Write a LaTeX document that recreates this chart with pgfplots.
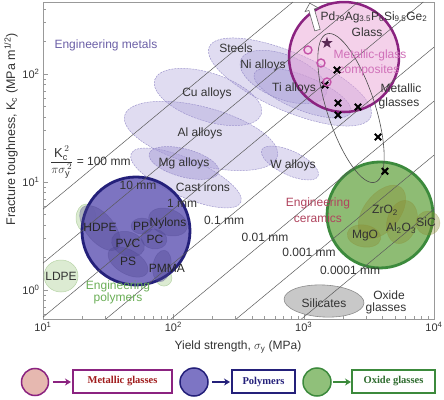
\documentclass[border=0pt]{standalone}
\usepackage{pgfplots}
\pgfplotsset{compat=1.18}
\usepackage{amsmath}
\usepackage{fontspec}
\setmainfont{Liberation Sans}
\newfontfamily\serifb{Liberation Serif}
\usetikzlibrary{shapes.geometric,shapes.arrows,arrows.meta}
\definecolor{metfill}{HTML}{A59AD6}
\definecolor{metdraw}{HTML}{8E84C4}
\definecolor{metc}{HTML}{6B5FA6}
\definecolor{mgfill}{HTML}{E9A3D6}
\definecolor{mgdraw}{HTML}{8B2380}
\definecolor{mgc}{HTML}{D070B8}
\definecolor{nvfill}{HTML}{7268BC}
\definecolor{nvdraw}{HTML}{24207A}
\definecolor{polyf}{HTML}{4E4690}
\definecolor{grfill}{HTML}{82B565}
\definecolor{grdraw}{HTML}{3C8A3C}
\definecolor{cerf}{HTML}{8A8A2E}
\definecolor{silf}{HTML}{C8C8C8}
\definecolor{sild}{HTML}{8C8C8C}
\definecolor{lgf}{HTML}{DCEBD2}
\definecolor{lgd}{HTML}{B8D4A8}
\definecolor{cerc}{HTML}{B0445E}
\definecolor{polc}{HTML}{6AAE56}
\definecolor{labc}{HTML}{333333}
\definecolor{linec}{HTML}{5A5A5A}
\definecolor{starc}{HTML}{5A2A55}
\definecolor{pinkm}{HTML}{C452A8}
\definecolor{legpink}{HTML}{E6B8B0}
\definecolor{legblue}{HTML}{7D75C4}
\definecolor{leggreen}{HTML}{90C07A}
\definecolor{mgtext}{HTML}{A01C1C}
\definecolor{grtext}{HTML}{2E6B2E}
\pgfdeclareplotmark{fstar}{%
  \pgfpathmoveto{\pgfpointpolar{90}{\pgfplotmarksize}}%
  \pgfpathlineto{\pgfpointpolar{126}{0.4\pgfplotmarksize}}%
  \pgfpathlineto{\pgfpointpolar{162}{\pgfplotmarksize}}%
  \pgfpathlineto{\pgfpointpolar{198}{0.4\pgfplotmarksize}}%
  \pgfpathlineto{\pgfpointpolar{234}{\pgfplotmarksize}}%
  \pgfpathlineto{\pgfpointpolar{270}{0.4\pgfplotmarksize}}%
  \pgfpathlineto{\pgfpointpolar{306}{\pgfplotmarksize}}%
  \pgfpathlineto{\pgfpointpolar{342}{0.4\pgfplotmarksize}}%
  \pgfpathlineto{\pgfpointpolar{18}{\pgfplotmarksize}}%
  \pgfpathlineto{\pgfpointpolar{54}{0.4\pgfplotmarksize}}%
  \pgfpathclose\pgfusepathqfill}
\tikzset{
  met/.style={ellipse, inner sep=0pt, draw=metdraw, dash pattern=on 2pt off 1pt, fill=metfill, fill opacity=0.35, draw opacity=0.8, line width=0.5pt},
  poly/.style={ellipse, inner sep=0pt, draw=polyf, fill=polyf, fill opacity=0.35, draw opacity=0.35, line width=0.5pt},
  cer/.style={ellipse, inner sep=0pt, draw=cerf, fill=cerf, fill opacity=0.35, draw opacity=0.3, line width=0.5pt},
  lgr/.style={ellipse, inner sep=0pt, draw=lgd, fill=lgf, line width=0.5pt},
  lab/.style={font=\fontsize{12}{14}\selectfont, text=labc, inner sep=0pt},
  dl/.style={linec, line width=0.5pt},
}
\begin{document}
\begin{tikzpicture}
\useasboundingbox (-43pt,-80pt) rectangle (401pt,319pt);
\begin{axis}[
  at={(0,0)}, anchor=south west,
  xmode=log, ymode=log, scale only axis, width=391pt, height=317pt,
  xmin=10, xmax=10000, ymin=0.539, ymax=464, clip=false,
  xtick={10,100,1000,10000},
  xticklabels={10\textsuperscript{1},10\textsuperscript{2},10\textsuperscript{3},10\textsuperscript{4}},
  ytick={1,10,100},
  yticklabels={10\textsuperscript{0},10\textsuperscript{1},10\textsuperscript{2}},
  minor xtick={20,30,40,50,60,70,80,90,200,300,400,500,600,700,800,900,2000,3000,4000,5000,6000,7000,8000,9000},
  minor ytick={0.6,0.7,0.8,0.9,2,3,4,5,6,7,8,9,20,30,40,50,60,70,80,90,200,300,400},
  tick pos=left, tick align=inside,
  major tick length=5pt, minor tick length=3pt,
  axis line style={draw=gray!80}, tick style={gray!80},
  xticklabel style={font=\fontsize{11}{13}\selectfont, text=labc},
  yticklabel style={font=\fontsize{11}{13}\selectfont, text=labc},
  xlabel={Yield strength, $\sigma_{\text{y}}$ (MPa)},
  ylabel={Fracture toughness, K\textsubscript{c} (MPa m\textsuperscript{1/2})},
  every axis x label/.style={at={(axis description cs:0.4987,0)}, yshift=-28pt, anchor=center, font=\fontsize{12}{14}\selectfont, text=labc},
  every axis y label/.style={at={(axis description cs:0,0.599)}, xshift=-32pt, rotate=90, anchor=center, font=\fontsize{12.5}{14}\selectfont, text=labc},
]
% metals
\node[met, minimum width=176pt, minimum height=58pt, rotate=-23.5] at (axis cs:785,84.3) {};
\node[met, minimum width=112pt, minimum height=48pt, rotate=-18] at (axis cs:184.5,61.2) {};
\node[met, minimum width=158pt, minimum height=58pt, rotate=-15] at (axis cs:163,26.7) {};
\node[met, minimum width=120pt, minimum height=38pt, rotate=-24] at (axis cs:125,10.9) {};
\node[met, minimum width=72pt, minimum height=28pt, rotate=-15, fill opacity=0.5] at (axis cs:120.8,15.0) {};
\node[met, minimum width=92pt, minimum height=44pt, rotate=-22] at (axis cs:700,93.8) {};
\node[met, minimum width=104pt, minimum height=34pt, rotate=-22] at (axis cs:980,66.7) {};
\node[met, minimum width=62pt, minimum height=24pt, rotate=-25] at (axis cs:785,15.0) {};
% green polymer remnants and LDPE
\node[lgr, minimum width=20pt, minimum height=28pt] at (axis cs:21.4,4.64) {};
\node[lgr, minimum width=16pt, minimum height=16pt] at (axis cs:84.7,1.29) {};
\node[lgr, minimum width=34pt, minimum height=32pt] at (axis cs:13.75,1.348) {};
% silicates
\node[ellipse, inner sep=0pt, draw=sild, fill=silf, line width=0.6pt, minimum width=80pt, minimum height=32pt, rotate=-3] at (axis cs:1433,0.791) {};
% big circles
\node[circle, inner sep=0pt, minimum size=110pt, fill=mgfill, fill opacity=0.5, draw=mgdraw, line width=2.5pt] at (axis cs:2040,143.6) {};
\node[circle, inner sep=0pt, minimum size=108pt, fill=nvfill, fill opacity=0.92, draw=nvdraw, line width=2.8pt] at (axis cs:51.7,3.52) {};
\node[circle, inner sep=0pt, minimum size=106pt, fill=grfill, fill opacity=0.9, draw=grdraw, line width=2.8pt] at (axis cs:3855,4.95) {};
% polymer ellipses
\node[poly, minimum width=54pt, minimum height=28pt, rotate=-50] at (axis cs:27.4,3.75) {};
\node[poly, minimum width=22pt, minimum height=16pt] at (axis cs:57.5,3.91) {};
\node[poly, minimum width=40pt, minimum height=26pt, rotate=-20] at (axis cs:91.0,4.26) {};
\node[poly, minimum width=26pt, minimum height=20pt, rotate=-10] at (axis cs:71.1,2.97) {};
\node[poly, minimum width=34pt, minimum height=24pt, rotate=-20] at (axis cs:44.9,2.67) {};
\node[poly, minimum width=44pt, minimum height=24pt, rotate=-30] at (axis cs:44.9,1.816) {};
\node[poly, minimum width=32pt, minimum height=18pt, rotate=80] at (axis cs:81.8,1.668) {};
% ceramic ellipses
\node[cer, minimum width=62pt, minimum height=36pt, rotate=52] at (axis cs:3990,5.28) {};
\node[cer, minimum width=44pt, minimum height=30pt, rotate=75] at (axis cs:5682,4.26) {};
\node[cer, minimum width=24pt, minimum height=24pt] at (axis cs:8995,4.17) {};
\node[cer, minimum width=34pt, minimum height=22pt, rotate=-10] at (axis cs:2904,3.16) {};
% metallic glasses loop
\node[ellipse, inner sep=0pt, draw=black!70, line width=0.6pt, minimum width=156pt, minimum height=48pt, rotate=-72] at (axis cs:2307,48.4) {};
% diagonal lines K^2/(pi sigma^2) = const
\addplot[dl] coordinates {(10,5.605) (828,464)};
\addplot[dl] coordinates {(10,1.773) (2618,464)};
\addplot[dl] coordinates {(10,0.5605) (8279,464)};
\addplot[dl] coordinates {(30.4,0.539) (10000,177.3)};
\addplot[dl] coordinates {(96.1,0.539) (10000,56.06)};
\addplot[dl] coordinates {(304.0,0.539) (10000,17.73)};
\addplot[dl] coordinates {(961.4,0.539) (10000,5.605)};
% data marks
\addplot[only marks, mark=x, mark size=4.5pt, line width=2pt, black] coordinates {(1803,109) (1459,79.1) (1834,53.9) (1834,41.7) (2612,49.5) (3715,26.1) (4207,12.6)};
\addplot[only marks, mark=fstar, mark size=6pt, color=starc] coordinates {(1510,193.6)};
\addplot[only marks, mark=o, mark size=4pt, line width=1.4pt, color=pinkm] coordinates {(1079,166.8) (1358,126.4) (1510,84.3)};
% hollow arrow
\node[single arrow, draw=black!60, fill=white, line width=0.6pt, minimum height=28pt, inner sep=2.5pt, single arrow head extend=4pt, rotate=106] at (axis cs:1200,330) {};
% labels
\node[lab, text=metc] at (axis cs:30.4,185.7) {Engineering metals};
\node[lab] at (axis cs:302.6,174) {Steels};
\node[lab] at (axis cs:487.5,121.2) {Ni alloys};
\node[lab] at (axis cs:843,74.2) {Ti alloys};
\node[lab] at (axis cs:181.3,66.7) {Cu alloys};
\node[lab] at (axis cs:160.2,28.4) {Al alloys};
\node[lab] at (axis cs:120.8,15.0) {Mg alloys};
\node[lab] at (axis cs:168.9,8.99) {Cast irons};
\node[lab] at (axis cs:828,14.37) {W alloys};
\node[lab] at (axis cs:3467,337) {Pd\textsubscript{79}Ag\textsubscript{3.5}P\textsubscript{6}Si\textsubscript{9.5}Ge\textsubscript{2}};
\node[lab] at (axis cs:3063,244.8) {Glass};
\node[lab, text=mgc] at (axis cs:3229,150) {Metallic-glass};
\node[lab, text=mgc] at (axis cs:3170,108.9) {composites};
\node[lab] at (axis cs:5585,74.2) {Metallic};
\node[lab] at (axis cs:5390,53.9) {glasses};
\node[lab, anchor=west] at (axis cs:11.32,15.3) {\fontsize{13}{15}\selectfont$\dfrac{\text{K}_{\text{c}}^{\,2}}{\pi\sigma_{\text{y}}^{\,2}}$\fontsize{12}{14}\selectfont\ = 100 mm};
\node[lab] at (axis cs:53.6,9.38) {10 mm};
\node[lab] at (axis cs:116.6,6.39) {1 mm};
\node[lab] at (axis cs:245,4.45) {0.1 mm};
\node[lab] at (axis cs:505,3.10) {0.01 mm};
\node[lab] at (axis cs:1099,2.25) {0.001 mm};
\node[lab] at (axis cs:2268,1.532) {0.0001 mm};
\node[lab, text=black!85] at (axis cs:27.4,3.83) {HDPE};
\node[lab, text=black!85] at (axis cs:56.5,3.91) {PP};
\node[lab, text=black!85] at (axis cs:91,4.17) {Nylons};
\node[lab, text=black!85] at (axis cs:72.3,2.97) {PC};
\node[lab, text=black!85] at (axis cs:44.9,2.72) {PVC};
\node[lab, text=black!85] at (axis cs:44.9,1.856) {PS};
\node[lab, text=black!85] at (axis cs:89.4,1.599) {PMMA};
\node[lab] at (axis cs:13.75,1.348) {LDPE};
\node[lab, text=polc] at (axis cs:37.6,1.089) {Engineering};
\node[lab, text=polc] at (axis cs:37.6,0.843) {polymers};
\node[lab, text=cerc] at (axis cs:1288,6.39) {Engineering};
\node[lab, text=cerc] at (axis cs:1288,4.64) {ceramics};
\node[lab] at (axis cs:4207,5.51) {ZrO\textsubscript{2}};
\node[lab] at (axis cs:5585,3.75) {Al\textsubscript{2}O\textsubscript{3}};
\node[lab] at (axis cs:8690,4.26) {SiC};
\node[lab] at (axis cs:2956,3.16) {MgO};
\node[lab] at (axis cs:1433,0.758) {Silicates};
\node[lab] at (axis cs:4519,0.899) {Oxide};
\node[lab] at (axis cs:4285,0.681) {glasses};
\end{axis}
% legend row
\draw[line width=1.5pt, draw=mgdraw, fill=legpink] (-8pt,-63pt) circle (13.5pt);
\draw[line width=1.5pt, mgdraw, -{Stealth[length=6pt,width=7pt]}] (10pt,-63pt) -- (28pt,-63pt);
\draw[line width=1.2pt, mgdraw] (30pt,-74pt) rectangle (129pt,-51pt);
\node[font=\serifb\bfseries\fontsize{10.5}{12}\selectfont, text=mgtext] at (79.5pt,-62.5pt) {Metallic glasses};
\draw[line width=1.5pt, draw=nvdraw, fill=legblue] (151pt,-63pt) circle (14pt);
\draw[line width=1.5pt, nvdraw, -{Stealth[length=6pt,width=7pt]}] (169pt,-63pt) -- (187pt,-63pt);
\draw[line width=1.2pt, nvdraw] (189pt,-74pt) rectangle (252pt,-51pt);
\node[font=\serifb\bfseries\fontsize{10.5}{12}\selectfont, text=nvdraw] at (220.5pt,-62.5pt) {Polymers};
\draw[line width=1.5pt, draw=grdraw, fill=leggreen] (274pt,-63pt) circle (14pt);
\draw[line width=1.5pt, grdraw, -{Stealth[length=6pt,width=7pt]}] (290pt,-63pt) -- (308pt,-63pt);
\draw[line width=1.2pt, grdraw] (309pt,-74pt) rectangle (392pt,-51pt);
\node[font=\serifb\bfseries\fontsize{10.5}{12}\selectfont, text=grtext] at (350.5pt,-62.5pt) {Oxide glasses};
\end{tikzpicture}
\end{document}
